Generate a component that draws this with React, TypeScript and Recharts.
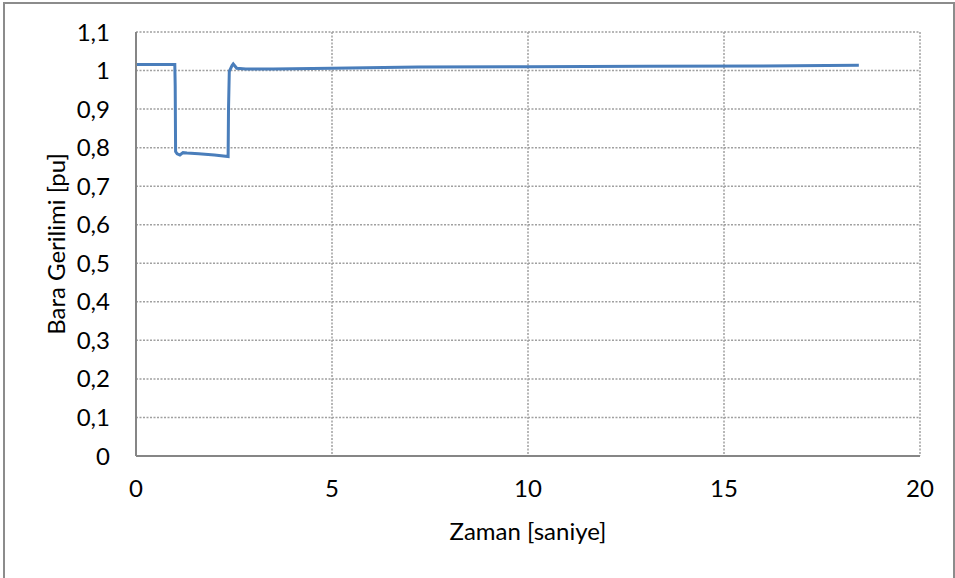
import React from 'react';
import { LineChart, Line, XAxis, YAxis, CartesianGrid, Label } from 'recharts';

const times = [0, 0.99, 1.0, 1.01, 1.05, 1.12, 1.2, 1.3, 1.6, 2.0, 2.35, 2.36, 2.38, 2.45, 2.48, 2.57, 2.8, 3.5, 5, 7.2, 10, 13, 16, 18.44];
const voltages = [1.016, 1.016, 0.96, 0.79, 0.784, 0.781, 0.787, 0.786, 0.784, 0.781, 0.777, 0.9, 0.998, 1.013, 1.017, 1.006, 1.004, 1.004, 1.006, 1.009, 1.010, 1.011, 1.012, 1.0136];
const xTicks = [0, 5, 10, 15, 20];
const yTicks = [0, 0.1, 0.2, 0.3, 0.4, 0.5, 0.6, 0.7, 0.8, 0.9, 1, 1.1];
const xTitle = 'Zaman [saniye]';
const yTitle = 'Bara Gerilimi [pu]';

const data = times.map((t, i) => ({ t, v: voltages[i] }));
const fmt = (v: number) => String(v).replace('.', ',');
const FONT = 'Lato, "Noto Sans", sans-serif';

export default function App() {
  return (
    <div style={{ position: 'absolute', left: 0, top: 0, width: 955, height: 578, overflow: 'hidden', background: '#fff' }}>
      <div style={{ position: 'absolute', left: 3, top: 2, width: 948, height: 600, borderLeft: '2px solid #8c8c8c', borderTop: '2px solid #8c8c8c', borderRight: '2px solid #8c8c8c' }} />
      <div style={{ position: 'absolute', left: 0, top: 0 }}>
        <LineChart width={955} height={578} data={data} margin={{ top: 32, right: 35, left: 0, bottom: 0 }}>
          <CartesianGrid stroke="#a0a0a0" strokeWidth={1.5} strokeDasharray="2 1.5" horizontalValues={yTicks} verticalValues={xTicks} />
          <XAxis
            dataKey="t"
            type="number"
            domain={[0, 20]}
            ticks={xTicks}
            height={122}
            tickSize={0}
            tickMargin={24}
            axisLine={{ stroke: '#868686', strokeWidth: 2 }}
            tick={{ fill: '#000', fontSize: 24, fontFamily: FONT }}
            allowDataOverflow
          >
            <Label
              content={(props: any) => {
                const vb = props.viewBox;
                return (
                  <text x={vb.x + vb.width / 2} y={vb.y + 84} textAnchor="middle" fill="#000" fontSize={24} fontFamily={FONT}>
                    {xTitle}
                  </text>
                );
              }}
            />
          </XAxis>
          <YAxis
            type="number"
            domain={[0, 1.1]}
            ticks={yTicks}
            width={136}
            tickSize={0}
            tickMargin={26}
            tickFormatter={fmt}
            axisLine={{ stroke: '#868686', strokeWidth: 2 }}
            tick={{ fill: '#000', fontSize: 24, fontFamily: FONT }}
            allowDataOverflow
          >
            <Label
              content={(props: any) => {
                const vb = props.viewBox;
                const cx = 55;
                const cy = vb.y + vb.height / 2;
                return (
                  <text x={cx} y={cy} transform={`rotate(-90 ${cx} ${cy})`} textAnchor="middle" dominantBaseline="central" fill="#000" fontSize={24} fontFamily={FONT}>
                    {yTitle}
                  </text>
                );
              }}
            />
          </YAxis>
          <Line type="linear" dataKey="v" stroke="#4a7ebb" strokeWidth={3} dot={false} isAnimationActive={false} />
        </LineChart>
      </div>
    </div>
  );
}
